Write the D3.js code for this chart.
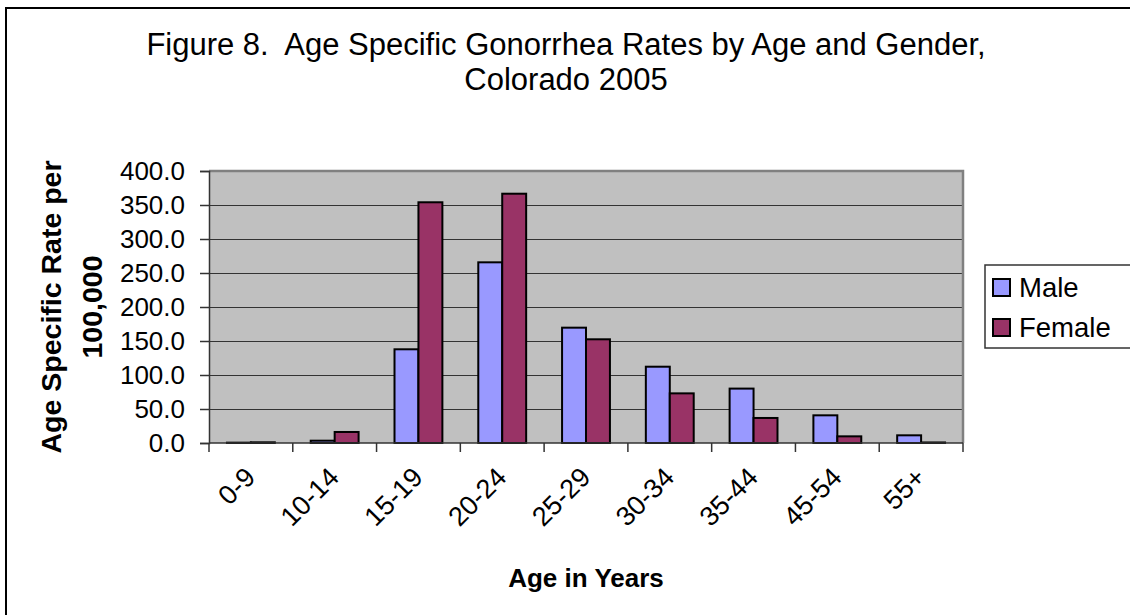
<!DOCTYPE html>
<html>
<head>
<meta charset="utf-8">
<script src="https://cdn.jsdelivr.net/npm/d3@7"></script>
<style>
  html, body { margin: 0; padding: 0; background: #fff; }
  svg { display: block; font-family: "Liberation Sans", Arial, sans-serif; }
</style>
</head>
<body>
<svg id="chart" width="1130" height="615"></svg>
<script>
// Age groups and rates per 100,000, Colorado 2005
const ageGroups = ["0-9", "10-14", "15-19", "20-24", "25-29", "30-34", "35-44", "45-54", "55+"];
const maleRates = [0.5, 3.4, 137.8, 265.7, 169.6, 112.2, 80.0, 40.7, 11.3];
const femaleRates = [1.0, 16.2, 354.0, 366.6, 152.5, 73.0, 36.8, 9.8, 0.8];
const seriesNames = ["Male", "Female"];
const seriesColors = ["#9999FF", "#993366"];
const yTicks = [0, 50, 100, 150, 200, 250, 300, 350, 400];

const svg = d3.select("#chart");
const plot = { left: 209, right: 963, top: 171, bottom: 443 };

// Chart frame
svg.append("rect")
  .attr("x", 6).attr("y", 8).attr("width", 1130).attr("height", 620)
  .attr("fill", "#fff").attr("stroke", "#000").attr("stroke-width", 2);

// Title
const title = svg.append("text")
  .attr("text-anchor", "middle")
  .attr("font-size", 31).attr("fill", "#000")
  .attr("xml:space", "preserve").style("white-space", "pre");
title.append("tspan").attr("x", 566).attr("y", 55)
  .text("Figure 8.  Age Specific Gonorrhea Rates by Age and Gender,");
title.append("tspan").attr("x", 566).attr("y", 90)
  .text("Colorado 2005");

// Scales
const x0 = d3.scaleBand()
  .domain(ageGroups)
  .range([plot.left, plot.right])
  .paddingInner(1.5 / 3.5)
  .paddingOuter(0.75 / 3.5);
const x1 = d3.scaleBand()
  .domain(seriesNames)
  .range([0, x0.bandwidth()]);
const y = d3.scaleLinear().domain([0, 400]).range([plot.bottom, plot.top]);

// Plot background
svg.append("rect")
  .attr("x", plot.left).attr("y", plot.top)
  .attr("width", plot.right - plot.left).attr("height", plot.bottom - plot.top)
  .attr("fill", "#C0C0C0");

// Gridlines
svg.append("g").selectAll("line")
  .data(yTicks.filter(d => d > 0 && d < 400))
  .join("line")
  .attr("x1", plot.left).attr("x2", plot.right)
  .attr("y1", d => y(d)).attr("y2", d => y(d))
  .attr("stroke", "#333").attr("stroke-width", 1)
  .attr("shape-rendering", "crispEdges");

// Plot border (top and right)
svg.append("path")
  .attr("d", `M${plot.left},${plot.top}H${plot.right}V${plot.bottom}`)
  .attr("fill", "none").attr("stroke", "#808080").attr("stroke-width", 2.5);

// Bars
const data = ageGroups.map((g, i) => ({ group: g, values: [maleRates[i], femaleRates[i]] }));
const groups = svg.append("g").selectAll("g")
  .data(data)
  .join("g")
  .attr("transform", d => `translate(${x0(d.group)},0)`);
groups.selectAll("rect")
  .data(d => d.values.map((v, k) => ({ name: seriesNames[k], value: v, color: seriesColors[k] })))
  .join("rect")
  .attr("x", d => x1(d.name))
  .attr("width", x1.bandwidth())
  .attr("y", d => y(d.value))
  .attr("height", d => y(0) - y(d.value))
  .attr("fill", d => d.color)
  .attr("stroke", "#000").attr("stroke-width", 2);

// Y axis
const yAxis = d3.axisLeft(y)
  .tickValues(yTicks)
  .tickFormat(d3.format(".1f"))
  .tickSize(9)
  .tickPadding(15);
const gy = svg.append("g").attr("transform", `translate(${plot.left},0)`).call(yAxis);
gy.select(".domain").attr("stroke", "#333").attr("stroke-width", 1.5);
gy.selectAll(".tick line").attr("stroke", "#333").attr("stroke-width", 1.5);
gy.selectAll(".tick text").attr("font-size", 26).attr("fill", "#000")
  .attr("font-family", "Liberation Sans, Arial, sans-serif");

// X axis: ticks at category boundaries
const step = x0.step();
const boundaries = d3.range(ageGroups.length + 1).map(i => plot.left + i * step);
svg.append("line")
  .attr("x1", plot.left).attr("x2", plot.right)
  .attr("y1", plot.bottom).attr("y2", plot.bottom)
  .attr("stroke", "#333").attr("stroke-width", 1.5);
svg.append("g").selectAll("line")
  .data(boundaries)
  .join("line")
  .attr("x1", d => d).attr("x2", d => d)
  .attr("y1", plot.bottom).attr("y2", plot.bottom + 9)
  .attr("stroke", "#333").attr("stroke-width", 1.5);

// Category labels rotated 45 degrees
svg.append("g").selectAll("text")
  .data(ageGroups)
  .join("text")
  .attr("transform", d => `translate(${x0(d) + x0.bandwidth() / 2 + 6},${plot.bottom + 36}) rotate(-45)`)
  .attr("text-anchor", "end")
  .attr("font-size", 27)
  .attr("fill", "#000")
  .text(d => d);

// Axis titles
svg.append("text")
  .attr("x", (plot.left + plot.right) / 2).attr("y", 587)
  .attr("text-anchor", "middle")
  .attr("font-size", 26).attr("font-weight", "bold")
  .text("Age in Years");

const yTitle = svg.append("text")
  .attr("transform", `translate(0,${(plot.top + plot.bottom) / 2}) rotate(-90)`)
  .attr("text-anchor", "middle")
  .attr("font-size", 28.5).attr("font-weight", "bold");
yTitle.append("tspan").attr("x", 0).attr("y", 61).text("Age Specific Rate per");
yTitle.append("tspan").attr("x", 0).attr("y", 102).text("100,000");

// Legend
const legend = svg.append("g");
legend.append("rect")
  .attr("x", 985).attr("y", 265).attr("width", 160).attr("height", 83)
  .attr("fill", "#fff").attr("stroke", "#333").attr("stroke-width", 1.5);
seriesNames.forEach((name, k) => {
  const yy = 279 + k * 40;
  legend.append("rect")
    .attr("x", 993).attr("y", yy).attr("width", 17).attr("height", 17)
    .attr("fill", seriesColors[k]).attr("stroke", "#000").attr("stroke-width", 2);
  legend.append("text")
    .attr("x", 1019).attr("y", yy + 18)
    .attr("font-size", 27.5).attr("fill", "#000")
    .text(name);
});
</script>
</body>
</html>
